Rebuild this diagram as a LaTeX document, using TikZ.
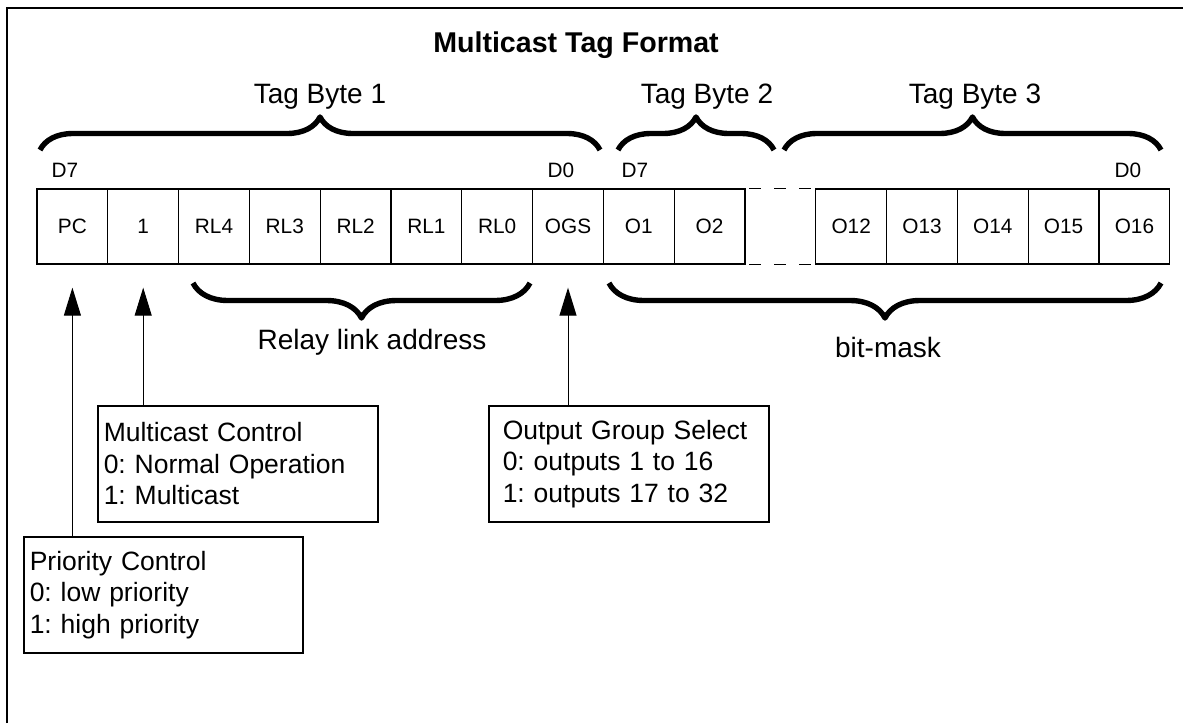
\documentclass[tikz,border=0pt]{standalone}
\usepackage{fontspec}
\setmainfont{Liberation Sans}
\usepackage{tikz}
\usetikzlibrary{arrows.meta,decorations.pathreplacing}
\frenchspacing

\begin{document}
\begin{tikzpicture}[x=0.5pt,y=-0.5pt,
	cell/.style={shape=rectangle,draw=black,line width=0.65pt,minimum width=35.4pt,minimum height=37.5pt,inner sep=0pt,font=\fontsize{10.4}{12}\selectfont},
	bitlbl/.style={inner sep=0pt,font=\fontsize{10.4}{12}\selectfont},
	infobox/.style={shape=rectangle,draw=black,line width=0.75pt,anchor=north west,align=left,minimum height=58pt,inner ysep=2pt,font=\fontsize{13.25}{15.75}\selectfont},
	bigtext/.style={inner sep=0pt,font=\fontsize{14}{17}\selectfont},
	arr/.style={-{Triangle[length=14pt,width=8.5pt]},line width=0.5pt,shorten >=11.5pt},
	bracetop/.style={decorate,decoration={brace,amplitude=16.5pt},line width=2.7pt,line join=round},
	bracebot/.style={decorate,decoration={brace,amplitude=17.5pt},line width=2.7pt,line join=round}]
	\useasboundingbox (0,0) rectangle (1183,723);
	\draw[line width=1pt] (7,723) -- (7,8) -- (1183,8);

	\node[inner sep=0pt,font=\bfseries\fontsize{14.3}{17}\selectfont] (title) at (576,45) {Multicast Tag Format};
	\node[bigtext] (tb1) at (320,97) {Tag Byte 1};
	\node[bigtext] (tb2) at (707,97) {Tag Byte 2};
	\node[bigtext] (tb3) at (975,97) {Tag Byte 3};

	\draw[bracetop] (40,150) -- (600,150);
	\draw[bracetop] (618,150) -- (774,150);
	\draw[bracetop] (784,150) -- (1161,150);

	\node[bitlbl] (d7a) at (65,170)   {D7};
	\node[bitlbl] (d0a) at (561,170)  {D0};
	\node[bitlbl] (d7b) at (635,170)  {D7};
	\node[bitlbl] (d0b) at (1128,170) {D0};

	\node[cell] (pc)  at (72.4,226.5)   {PC};
	\node[cell] (one) at (143.2,226.5)  {1};
	\node[cell] (rl4) at (214.0,226.5)  {RL4};
	\node[cell] (rl3) at (284.8,226.5)  {RL3};
	\node[cell] (rl2) at (355.6,226.5)  {RL2};
	\node[cell] (rl1) at (426.4,226.5)  {RL1};
	\node[cell] (rl0) at (497.2,226.5)  {RL0};
	\node[cell] (ogs) at (568.0,226.5)  {OGS};
	\node[cell] (o1)  at (638.8,226.5)  {O1};
	\node[cell] (o2)  at (709.6,226.5)  {O2};
	\node[cell,draw=none] (gap) at (780.4,226.5) {};
	\node[cell] (o12) at (851.2,226.5)  {O12};
	\node[cell] (o13) at (922.0,226.5)  {O13};
	\node[cell] (o14) at (992.8,226.5)  {O14};
	\node[cell] (o15) at (1063.6,226.5) {O15};
	\node[cell] (o16) at (1134.4,226.5) {O16};

	\draw[line width=0.65pt,dash pattern=on 6pt off 6.5pt] ([xshift=2.5pt]gap.north west) -- (gap.north east);
	\draw[line width=0.65pt,dash pattern=on 6pt off 6.5pt] ([xshift=2.5pt]gap.south west) -- (gap.south east);

	\draw[bracebot] (530,283) -- (193,283);
	\draw[bracebot] (1161,283) -- (609,283);
	\node[bigtext] (rla) at (372,342) {Relay link address};
	\node[bigtext] (bm)  at (888,347) {bit-mask};

	\node[infobox,inner xsep=3pt,text width=134pt] (mcbox) at (97,405) {Multicast Control\\0: Normal Operation\\1: Multicast};
	\node[infobox,inner xsep=7pt,text width=126pt] (ogsbox) at (488,405) {Output Group Select\\0: outputs 1 to 16\\1: outputs 17 to 32};
	\node[infobox,inner xsep=3pt,text width=133.5pt] (pribox) at (23,536) {Priority Control\\0: low priority\\1: high priority};

	\draw[arr] (pribox.north -| pc.south) -- (pc.south);
	\draw[arr] (mcbox.north -| one.south) -- (one.south);
	\draw[arr] (ogsbox.north -| ogs.south) -- (ogs.south);
\end{tikzpicture}
\end{document}
